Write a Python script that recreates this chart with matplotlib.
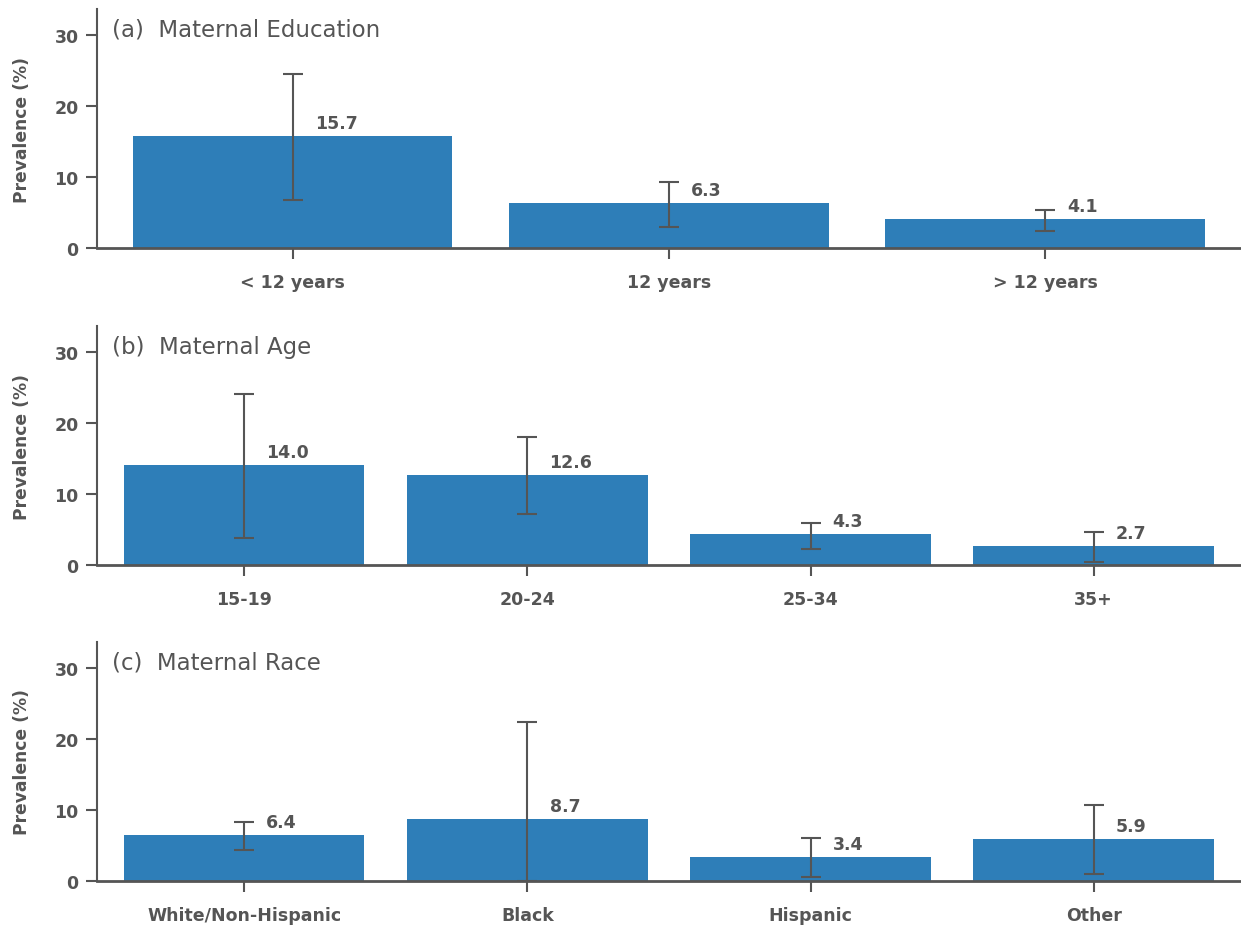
import matplotlib
matplotlib.use('Agg')
import matplotlib.pyplot as plt

plt.rcParams['font.family'] = ['DejaVu Sans']

# panel (a) maternal education
edu_labels = ['< 12 years', '12 years', '> 12 years']
edu_vals = [15.7, 6.3, 4.1]
edu_lo = [6.8, 3.0, 2.4]
edu_hi = [24.5, 9.3, 5.35]

# panel (b) maternal age
age_labels = ['15-19', '20-24', '25-34', '35+']
age_vals = [14.0, 12.6, 4.3, 2.7]
age_lo = [3.8, 7.1, 2.3, 0.4]
age_hi = [24.0, 18.0, 5.9, 4.7]

# panel (c) maternal race
race_labels = ['White/Non-Hispanic', 'Black', 'Hispanic', 'Other']
race_vals = [6.4, 8.7, 3.4, 5.9]
race_lo = [4.4, 0.0, 0.6, 1.0]
race_hi = [8.3, 22.4, 6.0, 10.7]

titles = ['(a)  Maternal Education', '(b)  Maternal Age', '(c)  Maternal Race']

bar_col = '#2e7eb8'
grey = '#555555'

fig = plt.figure(figsize=(12.41, 9.28), dpi=100)
boxes = [[0.078, 0.7317, 0.922, 0.2573],
         [0.078, 0.3901, 0.922, 0.2575],
         [0.078, 0.0496, 0.922, 0.2575]]

panels = [(edu_labels, edu_vals, edu_lo, edu_hi),
          (age_labels, age_vals, age_lo, age_hi),
          (race_labels, race_vals, race_lo, race_hi)]

for box, (labels, vals, lo, hi), title in zip(boxes, panels, titles):
    ax = fig.add_axes(box)
    xs = list(range(len(vals)))
    err = [[v - l for v, l in zip(vals, lo)], [h - v for v, h in zip(vals, hi)]]
    ax.bar(xs, vals, width=0.85, color=bar_col, zorder=1)
    ax.errorbar(xs, vals, yerr=err, fmt='none', ecolor=grey, elinewidth=1.5,
                capsize=7, capthick=1.5, zorder=3)
    for x, v in zip(xs, vals):
        ax.annotate(f'{v:.1f}', (x, v), xytext=(16, 3), textcoords='offset points',
                    ha='left', va='bottom', fontsize=12.5, fontweight='bold', color=grey)
    ax.set_xlim(-0.52, len(vals) - 0.48)
    ax.set_ylim(0, 33.6)
    ax.set_yticks([0, 10, 20, 30])
    ax.set_xticks(xs)
    ax.set_xticklabels(labels)
    ax.set_ylabel('Prevalence (%)', fontsize=12.3, fontweight='bold', color=grey, labelpad=17)
    ax.spines['top'].set_visible(False)
    ax.spines['right'].set_visible(False)
    ax.spines['left'].set_color(grey)
    ax.spines['bottom'].set_color(grey)
    ax.spines['left'].set_linewidth(1.5)
    ax.spines['bottom'].set_linewidth(2)
    ax.tick_params(axis='both', colors=grey, length=8, width=1.5, labelsize=12.5)
    ax.tick_params(axis='x', pad=10)
    ax.tick_params(axis='y', pad=5)
    for lab in ax.get_xticklabels() + ax.get_yticklabels():
        lab.set_fontweight('bold')
    ax.text(0.013, 0.916, title, transform=ax.transAxes, ha='left', va='center',
            fontsize=16.5, color=grey)

fig.savefig('out.png', dpi=100)
